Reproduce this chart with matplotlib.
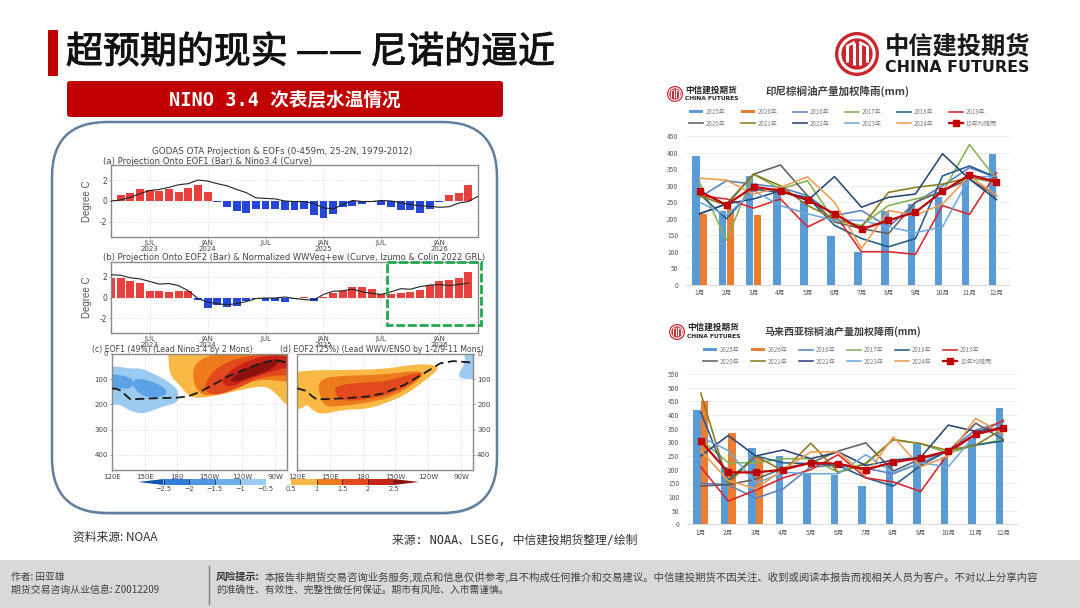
import numpy as np
import matplotlib
matplotlib.use("Agg")
import matplotlib.pyplot as plt
import matplotlib.patheffects as pe
from matplotlib.patches import Rectangle, Circle, FancyBboxPatch, Polygon

plt.rcParams['font.family'] = ['Noto Sans CJK SC', 'DejaVu Sans']
plt.rcParams['axes.unicode_minus'] = False

W, H = 1080, 608

# ---- EOF projection panels (month index 0 = Mar 2023) ----
eof1_months = list(range(1, 38))
eof1_bars = [0.6, 0.8, 1.1, 1.05, 1.0, 1.1, 0.9, 1.25, 1.55, 0.9, -0.05, -0.6, -1.0, -1.1, -0.75,
             -0.8, -0.8, -0.9, -0.85, -0.8, -1.35, -1.65, -1.25, -0.6, -0.45, -0.25, -0.05, -0.35,
             -0.55, -0.9, -0.9, -1.1, -0.75, -0.05, 0.55, 0.75, 1.55]
nino34_curve = [0, 0.1, 0.35, 0.7, 1.0, 1.1, 1.3, 1.55, 1.65, 2.0, 1.9, 1.65, 1.45, 1.1, 0.8, 0.3, 0.25,
                0.2, 0, -0.05, -0.05, -0.25, -0.65, -0.75, -0.35, 0.05, -0.05, -0.05, 0.05, 0, -0.15,
                -0.35, -0.45, -0.5, -0.6, -0.55, -0.2, -0.05, 0.45]
eof2_months = list(range(0, 38))
eof2_bars = [1.9, 1.9, 1.6, 1.4, 0.65, 0.65, 0.5, 0.65, 0.6, -0.2, -1.0, -0.75, -0.95, -0.8, -0.35, -0.1,
             -0.3, -0.3, -0.45, -0.15, 0.05, -0.35, 0.05, 0.45, 0.65, 1.0, 1.0, 0.85, 0.35, 0.3, 0.4,
             0.55, 0.7, 1.2, 1.55, 1.7, 1.85, 2.45]
wwv_curve = [2.2, 2.15, 1.9, 1.8, 1.55, 1.3, 1.35, 1.15, 0.65, -0.1, -0.45, -0.6, -0.7, -0.6, -0.4, -0.1,
             -0.05, -0.05, 0.05, -0.1, -0.2, -0.25, 0.3, 0.6, 0.65, 0.8, 0.55, 0.4, 0.3, 0.55, 0.85,
             0.8, 1.05, 1.2, 1.25, 1.15, 1.25, 1.4]
time_ticks = [4, 10, 16, 22, 28, 34]
time_labels = ["JUL\n2023", "JAN\n2024", "JUL", "JAN\n2025", "JUL", "JAN\n2026"]

# ---- EOF spatial patterns: outlines as (longitude east, depth m); edges run past the frame and get clipped ----
lon_ticks = [120, 150, 180, 210, 240, 270]
lon_labels = ["120E", "150E", "180", "150W", "120W", "90W"]
depth_ticks = [0, 100, 200, 300, 400]

eof1_shapes = [
    ('#9CCBF2', [(110, 48), (126, 50), (137, 58), (146, 56), (155, 72), (165, 92), (175, 120), (181, 145),
                 (181, 192), (170, 204), (160, 220), (148, 238), (137, 226), (130, 208), (125, 198), (110, 212)]),
    ('#5BA3E6', [(110, 78), (128, 82), (140, 100), (139, 135), (128, 138), (122, 135), (110, 150)]),
    ('#5BA3E6', [(140, 100), (150, 100), (162, 118), (170, 140), (170, 165), (155, 175), (145, 158), (139, 125)]),
    ('#F9B944', [(172, -20), (300, -20), (300, 215), (280, 205), (272, 160), (262, 128), (250, 132), (235, 146),
                 (216, 165), (198, 176), (190, 165), (182, 122), (174, 88), (172, 40)]),
    ('#EE7A1E', [(194, 80), (197, 35), (210, 5), (225, -15), (300, -15), (300, 115), (275, 108), (262, 100),
                 (245, 112), (225, 138), (207, 172), (197, 140)]),
    ('#E2491C', [(203, 128), (218, 44), (245, 5), (300, -10), (300, 85), (259, 85), (237, 135), (212, 170)]),
    ('#C9241A', [(219, 104), (236, 42), (259, 8), (276, 2), (295, 35), (262, 76), (245, 100), (228, 135)]),
    ('#8C120F', [(227, 104), (243, 55), (259, 30), (277, 14), (267, 62), (248, 90), (235, 112)]),
]
eof2_shapes = [
    ('#F9B944', [(110, 75), (135, 64), (162, 64), (199, 60), (230, 40), (245, 42), (250, 57), (240, 96),
                 (218, 166), (199, 198), (184, 218), (162, 221), (143, 240), (135, 226), (129, 198),
                 (124, 218), (110, 225)]),
    ('#EE7A1E', [(140, 110), (150, 88), (199, 82), (238, 62), (230, 112), (206, 172), (184, 194), (153, 210),
                 (145, 206), (140, 150)]),
    ('#E2491C', [(155, 124), (184, 112), (202, 108), (224, 80), (236, 74), (227, 112), (206, 158), (184, 180),
                 (162, 188), (155, 158)]),
    ('#9CCBF2', [(272, -15), (295, -15), (295, 100), (269, 100), (268, 75), (272, 50), (274, 20)]),
]
eof1_thermo_lon = [120, 124, 129, 133, 137, 156, 180, 190, 201, 214, 226, 240, 255, 265, 275, 281]
eof1_thermo_dep = [137, 138, 147, 165, 180, 176, 173, 168, 150, 120, 90, 65, 40, 28, 28, 35]
eof2_thermo_lon = [120, 129, 133, 138, 162, 184, 199, 218, 236, 251, 263, 280]
eof2_thermo_dep = [136, 147, 165, 180, 176, 169, 156, 123, 77, 37, 28, 34]

cbar_levels = [-2.5, -2, -1.5, -1, -0.5, 0.5, 1, 1.5, 2, 2.5]
cbar_labels = ["−2.5", "−2", "−1.5", "−1", "−0.5", "0.5", "1", "1.5", "2", "2.5"]
cbar_colors = ['#2F7EDB', '#4F97E4', '#6FAEEB', '#9CCBF2', '#FFFFFF', '#F9B944', '#EE7A1E', '#E2491C', '#C9241A']

# ---- Palm oil rainfall charts ----
months = ["1月", "2月", "3月", "4月", "5月", "6月", "7月", "8月", "9月", "10月", "11月", "12月"]
year_names = ["2016年", "2017年", "2018年", "2019年", "2020年", "2021年", "2022年", "2023年", "2024年"]
year_colors = ['#5B7FC0', '#84B156', '#1F5E8C', '#D7262B', '#5F5F5F', '#8C7B1C', '#2A4678', '#6FA8DC', '#EE9B50']

indo_2025 = [390, 225, 330, 280, 255, 148, 100, 225, 245, 265, 320, 395]
indo_2026 = [215, 230, 212]
indo_years = [
    [265, 315, 305, 295, 270, 210, 225, 175, 250, 300, 355, 325],
    [310, 135, 335, 290, 315, 195, 180, 240, 260, 280, 425, 320],
    [275, 200, 290, 280, 265, 180, 140, 115, 140, 330, 360, 325],
    [270, 260, 232, 260, 175, 215, 100, 100, 92, 240, 213, 340],
    [215, 245, 335, 363, 270, 190, 170, 155, 250, 285, 320, 270],
    [270, 240, 335, 300, 240, 200, 175, 280, 295, 305, 325, 310],
    [215, 245, 260, 285, 255, 328, 235, 265, 275, 397, 320, 258],
    [250, 210, 285, 240, 215, 195, 195, 175, 158, 175, 325, 330],
    [323, 317, 275, 295, 327, 250, 110, 225, 210, 245, 330, 270],
]
indo_avg = [283, 242, 297, 285, 258, 215, 168, 195, 220, 283, 333, 312]

malay_2025 = [420, 210, 278, 250, 185, 180, 140, 225, 295, 245, 320, 425]
malay_2026 = [452, 335, 245]
malay_years = [
    [150, 145, 95, 130, 210, 215, 205, 185, 225, 270, 345, 375],
    [310, 225, 225, 240, 240, 190, 225, 310, 295, 260, 290, 310],
    [410, 160, 250, 225, 222, 215, 170, 140, 215, 270, 290, 305],
    [210, 85, 125, 170, 200, 255, 170, 155, 120, 260, 330, 380],
    [140, 145, 165, 205, 225, 268, 298, 195, 240, 265, 370, 310],
    [480, 150, 250, 195, 297, 190, 220, 310, 295, 270, 290, 350],
    [250, 325, 250, 272, 240, 265, 215, 235, 245, 363, 340, 355],
    [320, 270, 150, 190, 185, 185, 255, 190, 225, 210, 330, 350],
    [270, 160, 130, 200, 265, 265, 180, 320, 210, 250, 388, 330],
]
malay_avg = [305, 190, 190, 200, 225, 222, 200, 227, 243, 268, 330, 353]

risk_line1 = ("本报告非期货交易咨询业务服务,观点和信息仅供参考,且不构成任何推介和交易建议。"
              "中信建投期货不因关注、收到或阅读本报告而视相关人员为客户。不对以上分享内容")
risk_line2 = "的准确性、有效性、完整性做任何保证。期市有风险、入市需谨慎。"

RED = '#C00000'
LATIN = ['DejaVu Sans', 'Noto Sans CJK SC']
MONO = ['DejaVu Sans Mono', 'Noto Sans CJK SC']


def px_axes(x0, y0, x1, y1, **kw):
    return fig.add_axes([x0 / W, 1 - y1 / H, (x1 - x0) / W, (y1 - y0) / H], **kw)


def soften(points, rounds=2):
    # corner cutting so the contour outlines read as smooth curves
    pts = np.asarray(points, float)
    for _ in range(rounds):
        nxt = np.roll(pts, -1, axis=0)
        pts = np.column_stack([0.75 * pts + 0.25 * nxt, 0.25 * pts + 0.75 * nxt]).reshape(-1, 2)
    return pts


def projection_panel(box, bar_x, bars, curve):
    ax = px_axes(*box)
    colors = ['#E8403C' if v >= 0 else '#2546D6' for v in bars]
    ax.bar(bar_x, bars, width=0.82, color=colors, zorder=2)
    ax.plot(range(len(curve)), curve, color='#222222', lw=0.8, zorder=3)
    ax.set_xlim(0, 38)
    ax.set_ylim(-3.43, 3.43)
    ax.set_yticks([-2, 0, 2])
    ax.set_yticklabels(['-2', '0', '2'], family=LATIN, fontsize=5.5, color='#444444')
    ax.set_xticks(time_ticks)
    ax.set_xticklabels(time_labels, family=LATIN, fontsize=5, color='#444444', linespacing=0.95)
    ax.tick_params(length=1.5, width=0.5, color='#888888', pad=1)
    ax.grid(True, ls=':', lw=0.5, color='#CCCCCC', zorder=0)
    for s in ax.spines.values():
        s.set_color('#8A8A8A')
        s.set_linewidth(1.0)
    ax.set_ylabel('Degree C', family=['Liberation Sans', 'DejaVu Sans'], fontsize=7, color='#555555', labelpad=6)
    return ax


def pattern_panel(box, shapes, t_lon, t_dep, right_ticks=False):
    ax = px_axes(*box)
    for color, outline in shapes:
        ax.add_patch(Polygon(soften(outline), closed=True, fc=color, ec='none', zorder=2))
    ax.plot(t_lon, t_dep, color='#1A1A1A', lw=1.3, ls=(0, (5, 2.5)), zorder=4)
    ax.set_xlim(120, 281)
    ax.set_ylim(460, 0)
    ax.set_xticks(lon_ticks)
    ax.set_xticklabels(lon_labels, family=LATIN, fontsize=5, color='#444444')
    ax.set_yticks(depth_ticks)
    ax.set_yticklabels([str(d) for d in depth_ticks], family=LATIN, fontsize=5, color='#444444')
    if right_ticks:
        ax.yaxis.tick_right()
    ax.tick_params(length=1.5, width=0.5, color='#888888', pad=1.5)
    ax.grid(True, ls=':', lw=0.5, color='#CCCCCC', zorder=0)
    for s in ax.spines.values():
        s.set_color('#8A8A8A')
        s.set_linewidth(1.0)
    return ax


def rain_chart(box, ymax, ystep, y2025, y2026, years, avg, legend_x, legend_y, col_space):
    ax = px_axes(*box)
    x = np.arange(12)
    bw = 0.28
    b25 = ax.bar(x - bw / 2, y2025, width=bw, color='#5B9BD5', zorder=2, label='2025年')
    b26 = ax.bar(x[:len(y2026)] + bw / 2, y2026, width=bw, color='#ED7D31', zorder=2, label='2026年')
    lines = []
    for name, color, vals in zip(year_names, year_colors, years):
        lines.append(ax.plot(x, vals, color=color, lw=1.15, zorder=3, label=name)[0])
    mean_line = ax.plot(x, avg, color=RED, lw=1.6, marker='s', ms=4.2, zorder=4, label='10年均降雨')[0]
    ax.set_xlim(-0.5, 11.5)
    ax.set_ylim(0, ymax)
    ax.set_yticks(np.arange(0, ymax + 1, ystep))
    ax.set_xticks(x)
    ax.set_xticklabels(months)
    ax.tick_params(axis='x', length=0, labelsize=4.8, labelcolor='#595959', pad=3)
    ax.tick_params(axis='y', length=0, labelsize=4.8, labelcolor='#595959', pad=5.5)
    ax.grid(True, axis='y', color='#EDEDED', lw=0.7, zorder=0)
    for name in ('top', 'left', 'right'):
        ax.spines[name].set_visible(False)
    ax.spines['bottom'].set_color('#D9D9D9')
    ax.spines['bottom'].set_linewidth(0.7)
    handles = [b25, b26] + lines + [mean_line]
    # rows run across the slide, while legend columns fill downwards
    order = [h for pair in zip(handles[:6], handles[6:]) for h in pair]
    leg = ax.legend(order, [h.get_label() for h in order], ncol=6, frameon=False, fontsize=4.4,
                    loc='lower left', bbox_to_anchor=(legend_x / W, 1 - legend_y / H),
                    bbox_transform=fig.transFigure, handlelength=2.3, handletextpad=0.45,
                    columnspacing=col_space, labelspacing=0.62, borderpad=0, borderaxespad=0, handleheight=0.55)
    for t in leg.get_texts():
        t.set_color('#7F7F7F')
    return ax


def logo(ax, cx, cy, r):
    ax.add_patch(Circle((cx, cy), r, fc='#C9252C', ec='none', zorder=5))
    ax.add_patch(Circle((cx, cy), r * 0.78, fc='none', ec='white', lw=r * 0.1, zorder=6))
    for dx, half in [(-0.45, 0.36), (-0.15, 0.52), (0.15, 0.52), (0.45, 0.36)]:
        ax.plot([cx + dx * r, cx + dx * r], [cy - half * r, cy + half * r], color='white',
                lw=r * 0.1, zorder=6, solid_capstyle='butt')
    ax.plot([cx - 0.45 * r, cx - 0.15 * r], [cy - 0.36 * r, cy - 0.52 * r], color='white', lw=r * 0.08, zorder=6)
    ax.plot([cx + 0.45 * r, cx + 0.15 * r], [cy - 0.36 * r, cy - 0.52 * r], color='white', lw=r * 0.08, zorder=6)


fig = plt.figure(figsize=(W / 100, H / 100), dpi=100, facecolor='white')

# Slide furniture in pixel coordinates
page = fig.add_axes([0, 0, 1, 1], zorder=0)
page.set_xlim(0, W)
page.set_ylim(H, 0)
page.axis('off')

page.add_patch(Rectangle((48, 30), 10, 46, fc=RED, ec='none'))
page.text(66, 52.5, "超预期的现实 —— 尼诺的逼近", fontsize=26.6, color='#111111', va='center', ha='left',
          path_effects=[pe.withStroke(linewidth=0.7, foreground='#111111')])
logo(page, 857, 54, 22)
page.text(885, 46, "中信建投期货", fontsize=17.5, weight='bold', color='#1A1A1A', va='center', ha='left')
page.text(885, 67, "CHINA FUTURES", family=LATIN, fontsize=11.4, weight='bold', color='#1A1A1A', va='center', ha='left')

page.add_patch(FancyBboxPatch((69, 83), 432, 32, boxstyle="round,pad=2,rounding_size=3", fc=RED, ec='none'))
page.text(285, 100, "NINO 3.4 次表层水温情况", family=MONO, fontsize=13.4, weight='bold', color='white', ha='center', va='center')

page.add_patch(FancyBboxPatch((54, 124), 443, 391, boxstyle="round,pad=0,rounding_size=55", fc='#B9C4CF', ec='none', alpha=0.6))
page.add_patch(FancyBboxPatch((52, 122), 445, 391, boxstyle="round,pad=0,rounding_size=55", fc='white', ec='#5F7F9F', lw=1.8))

page.text(282, 152, "GODAS OTA Projection & EOFs (0-459m, 25-2N, 1979-2012)", family=LATIN, fontsize=6.3, color='#444444', ha='center', va='center')
page.text(103, 161, "(a) Projection Onto EOF1 (Bar) & Nino3.4 (Curve)", family=LATIN, fontsize=6.1, color='#444444', va='center')
page.text(103, 257, "(b) Projection Onto EOF2 (Bar) & Normalized WWVeq+ew (Curve, Izumo & Colin 2022 GRL)", family=LATIN, fontsize=6.0, color='#444444', va='center')
page.text(92, 349.5, "(c) EOF1 (49%) (Lead Nino3.4 by 2 Mons)", family=LATIN, fontsize=5.6, color='#444444', va='center')
page.text(280, 349.5, "(d) EOF2 (25%) (Lead WWV/ENSO by 1-2/9-11 Mons)", family=LATIN, fontsize=5.6, color='#444444', va='center')

page.text(73, 537, "资料来源: NOAA", fontsize=8.5, color='#333333', va='center', style='italic')
page.text(392, 540, "来源: NOAA、LSEG, 中信建投期货整理/绘制", family=MONO, fontsize=8.5, color='#333333', va='center')

page.add_patch(Rectangle((0, 560), W, 48, fc='#D9D9D9', ec='none'))
page.text(11, 577, "作者: 田亚雄", fontsize=7, color='#404040', va='center')
page.text(11, 589.5, "期货交易咨询从业信息: Z0012209", fontsize=7.1, color='#404040', va='center')
page.plot([208.5, 208.5], [566, 604], color='#7F7F7F', lw=1.0)
page.text(216, 577, "风险提示:", fontsize=7.3, weight='bold', color='#333333', va='center')
page.text(265, 577, risk_line1, fontsize=7.46, color='#404040', va='center')
page.text(216, 590, risk_line2, fontsize=7.0, color='#404040', va='center')

logo(page, 675, 94, 8)
page.text(685, 90, "中信建投期货", fontsize=6.2, weight='bold', color='#222222', va='center')
page.text(685, 98.5, "CHINA FUTURES", family=LATIN, fontsize=4.3, weight='bold', color='#222222', va='center')
page.text(838, 91.5, "印尼棕榈油产量加权降雨(mm)", fontsize=7.6, weight='bold', color='#404040', ha='center', va='center')

logo(page, 677, 332, 8)
page.text(687, 327, "中信建投期货", fontsize=6.2, weight='bold', color='#222222', va='center')
page.text(687, 336, "CHINA FUTURES", family=LATIN, fontsize=4.3, weight='bold', color='#222222', va='center')
page.text(843, 331.5, "马来西亚棕榈油产量加权降雨(mm)", fontsize=7.2, weight='bold', color='#404040', ha='center', va='center')

# Left: subsurface temperature figure
projection_panel((111, 165, 478, 237), eof1_months, eof1_bars, nino34_curve)
projection_panel((111, 262, 478, 333), eof2_months, eof2_bars, wwv_curve)
pattern_panel((112, 354, 287, 470), eof1_shapes, eof1_thermo_lon, eof1_thermo_dep)
pattern_panel((297, 354, 473, 470), eof2_shapes, eof2_thermo_lon, eof2_thermo_dep, right_ticks=True)

# Shared colour bar, levels evenly spaced
cb = px_axes(138, 479, 419, 485)
pos = np.arange(len(cbar_levels))
cb.bar(pos[:-1] + 0.5, [1] * len(cbar_colors), width=1, bottom=0, color=cbar_colors, zorder=1)
cb.add_patch(Polygon([(-1, 0.5), (0, 0), (0, 1)], fc='#1356B0', ec='none'))
cb.add_patch(Polygon([(10, 0.5), (9, 0), (9, 1)], fc='#8C120F', ec='none'))
cb.vlines([p for i, p in enumerate(pos) if i not in (4, 5)], 0, 1, color='#222222', lw=0.5, zorder=2)
cb.set_xlim(-1, 10)
cb.set_ylim(0, 1)
cb.set_yticks([])
cb.set_xticks(pos)
cb.set_xticklabels(cbar_labels, family=LATIN, fontsize=4.8, color='#444444')
cb.tick_params(length=0, pad=0.5)
for s in cb.spines.values():
    s.set_visible(False)

# Highlight around the latest months of the second projection
overlay = fig.add_axes([0, 0, 1, 1], zorder=10)
overlay.set_xlim(0, W)
overlay.set_ylim(H, 0)
overlay.axis('off')
overlay.add_patch(Rectangle((387, 262), 94, 63, fc='none', ec='#1FA84F', lw=2.0, ls=(0, (3.2, 1.0))))

# Right: rainfall charts
rain_chart((686, 136.3, 1010, 284.7), 450, 50, indo_2025, indo_2026, indo_years, indo_avg, 689, 127.5, 2.5)
rain_chart((687, 374, 1017, 524.3), 550, 50, malay_2025, malay_2026, malay_years, malay_avg, 703, 365.5, 1.85)

fig.savefig('out.png', dpi=100)
